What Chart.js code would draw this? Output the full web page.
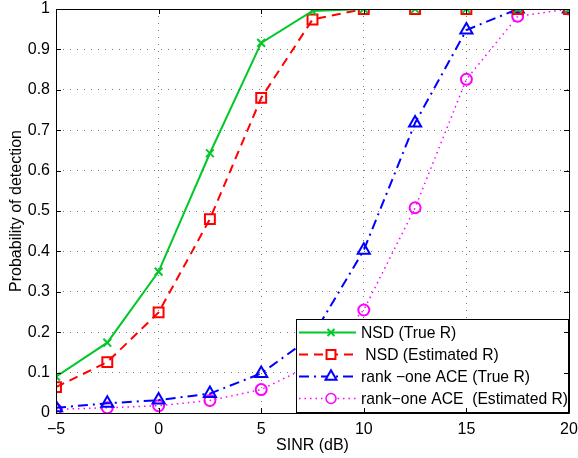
<!DOCTYPE html>
<html>
<head>
<meta charset="utf-8">
<script src="https://cdn.jsdelivr.net/npm/chart.js@4/dist/chart.umd.min.js"></script>
<style>
  body { margin: 0; background: #fff; }
  canvas { display: block; }
</style>
</head>
<body>
<canvas id="myChart" width="578" height="458"></canvas>
<script>
// SINR points (dB)
const snr = [-5, -2.5, 0, 2.5, 5, 7.5, 10, 12.5, 15, 17.5, 20];
const nsdTrue = [0.09, 0.174, 0.35, 0.643, 0.916, 0.995, 1, 1, 1, 1, 1];
const nsdEst = [0.064, 0.126, 0.249, 0.48, 0.78, 0.974, 1, 1, 1, 1, 1];
const aceTrue = [0.013, 0.024, 0.032, 0.048, 0.098, 0.19, 0.403, 0.718, 0.948, 1, 1];
const aceEst = [0.009, 0.013, 0.018, 0.031, 0.058, 0.12, 0.255, 0.508, 0.826, 0.982, 1];
const xTicks = [-5, 0, 5, 10, 15, 20];
const yTicks = [0, 0.1, 0.2, 0.3, 0.4, 0.5, 0.6, 0.7, 0.8, 0.9, 1];

const seriesNames = ['NSD (True R)', ' NSD (Estimated R)', 'rank \u2212one ACE (True R)', 'rank\u2212one ACE  (Estimated R)'];

const FONT = 'Liberation Sans, Arial, Helvetica, sans-serif';

function pts(ys) {
    return snr.map((x, i) => ({ x: x, y: ys[i] }))
}

const green = 'rgb(0,200,40)';

// draws the box, the inward ticks and the legend, MATLAB style
const matlabAxes = {
    id: 'matlabAxes',
    afterDatasetsDraw(chart) {
        const ctx = chart.ctx;
        const a = chart.chartArea;
        // legend box
        const lw = 272, lh = 93;
        const lx = a.right - 1 - lw, ly = a.bottom - 1 - lh;
        ctx.save();
        ctx.fillStyle = '#fff';
        ctx.fillRect(lx, ly, lw, lh);
        ctx.strokeStyle = '#000';
        ctx.lineWidth = 1;
        ctx.strokeRect(lx + 0.5, ly + 0.5, lw, lh);
        ctx.font = '15.7px ' + FONT;
        ctx.textBaseline = 'middle';
        ctx.textAlign = 'left';
        chart.data.datasets.forEach((ds, i) => {
            const cy = ly + 13.5 + i * 22;
            ctx.save();
            ctx.strokeStyle = ds.borderColor;
            ctx.lineWidth = ds.borderWidth;
            ctx.setLineDash(ds.borderDash || []);
            ctx.beginPath();
            ctx.moveTo(lx + 3, cy);
            ctx.lineTo(lx + 60, cy);
            ctx.stroke();
            ctx.setLineDash([]);
            ctx.fillStyle = '#fff';
            Chart.helpers.drawPoint(ctx, {
                pointStyle: ds.pointStyle,
                radius: ds.pointRadius * 0.9,
                borderWidth: ds.pointBorderWidth,
                rotation: 0
            }, lx + 35, cy);
            ctx.restore();
            ctx.fillStyle = '#000';
            ctx.fillText(ds.label, lx + 65, cy + 1);
        });
        ctx.restore();
    },
    afterDraw(chart) {
        const ctx = chart.ctx;
        const a = chart.chartArea;
        const xs = chart.scales.x, ys = chart.scales.y;
        ctx.save();
        ctx.strokeStyle = '#000';
        ctx.lineWidth = 1;
        ctx.beginPath();
        ctx.rect(Math.round(a.left) + 0.5, Math.round(a.top) + 0.5,
            Math.round(a.right - a.left), Math.round(a.bottom - a.top));
        const t = 5;
        xTicks.forEach(v => {
            const px = Math.round(xs.getPixelForValue(v)) + 0.5;
            ctx.moveTo(px, a.bottom); ctx.lineTo(px, a.bottom - t);
            ctx.moveTo(px, a.top); ctx.lineTo(px, a.top + t);
        });
        yTicks.forEach(v => {
            const py = Math.round(ys.getPixelForValue(v)) + 0.5;
            ctx.moveTo(a.left, py); ctx.lineTo(a.left + t, py);
            ctx.moveTo(a.right, py); ctx.lineTo(a.right - t, py);
        });
        ctx.stroke();
        ctx.restore();
    }
};

const ctx = document.getElementById('myChart').getContext('2d');

new Chart(ctx, {
    type: 'line',
    data: {
        datasets: [{
            label: seriesNames[0],
            data: pts(nsdTrue),
            borderColor: green,
            borderWidth: 2,
            pointStyle: 'crossRot',
            pointRadius: 5.5,
            pointBorderWidth: 2,
            pointBorderColor: green,
            pointBackgroundColor: 'rgba(0,0,0,0)'
        }, {
            label: seriesNames[1],
            data: pts(nsdEst),
            borderColor: '#ff0000',
            borderWidth: 2,
            borderDash: [9, 6],
            pointStyle: 'rect',
            pointRadius: 7,
            pointBorderWidth: 2,
            pointBorderColor: '#ff0000',
            pointBackgroundColor: 'rgba(0,0,0,0)'
        }, {
            label: seriesNames[2],
            data: pts(aceTrue),
            borderColor: '#0000ff',
            borderWidth: 2,
            borderDash: [10, 5, 2, 5],
            pointStyle: 'triangle',
            pointRadius: 7,
            pointBorderWidth: 2,
            pointBorderColor: '#0000ff',
            pointBackgroundColor: 'rgba(0,0,0,0)'
        }, {
            label: seriesNames[3],
            data: pts(aceEst),
            borderColor: '#ff00ff',
            borderWidth: 1.5,
            borderDash: [1.5, 4],
            pointStyle: 'circle',
            pointRadius: 5.5,
            pointBorderWidth: 2,
            pointBorderColor: '#ff00ff',
            pointBackgroundColor: 'rgba(0,0,0,0)'
        }]
    },
    options: {
        responsive: false,
        animation: false,
        layout: { padding: { left: 0, right: 7, top: 9, bottom: 0 } },
        plugins: {
            legend: { display: false },
            tooltip: { enabled: false }
        },
        scales: {
            x: {
                type: 'linear',
                min: -5,
                max: 20,
                afterBuildTicks: s => { s.ticks = xTicks.map(v => ({ value: v })) },
                afterFit: s => { s.height = 45; s.paddingLeft = 0; s.paddingRight = 0 },
                ticks: {
                    padding: 7,
                    maxRotation: 0,
                    color: '#000',
                    font: { family: FONT, size: 16 },
                    callback: v => String(v).replace('-', '\u2212')
                },
                grid: { color: '#777', lineWidth: 1, drawTicks: false },
                border: { display: false, dash: [1, 6] },
                title: {
                    display: true,
                    text: 'SINR (dB)',
                    color: '#000',
                    font: { family: FONT, size: 16 },
                    padding: { top: 0, bottom: 3 }
                }
            },
            y: {
                min: 0,
                max: 1,
                afterBuildTicks: s => { s.ticks = yTicks.map(v => ({ value: v })) },
                afterFit: s => { s.width = 56; s.paddingTop = 0; s.paddingBottom = 0 },
                ticks: {
                    padding: 6,
                    color: '#000',
                    font: { family: FONT, size: 16 },
                    callback: v => String(Math.round(v * 10) / 10)
                },
                grid: { color: '#777', lineWidth: 1, drawTicks: false },
                border: { display: false, dash: [1, 6] },
                title: {
                    display: true,
                    text: 'Probability of detection',
                    color: '#000',
                    font: { family: FONT, size: 16 },
                    padding: { top: 7, bottom: 0 }
                }
            }
        }
    },
    plugins: [matlabAxes]
});
</script>
</body>
</html>
